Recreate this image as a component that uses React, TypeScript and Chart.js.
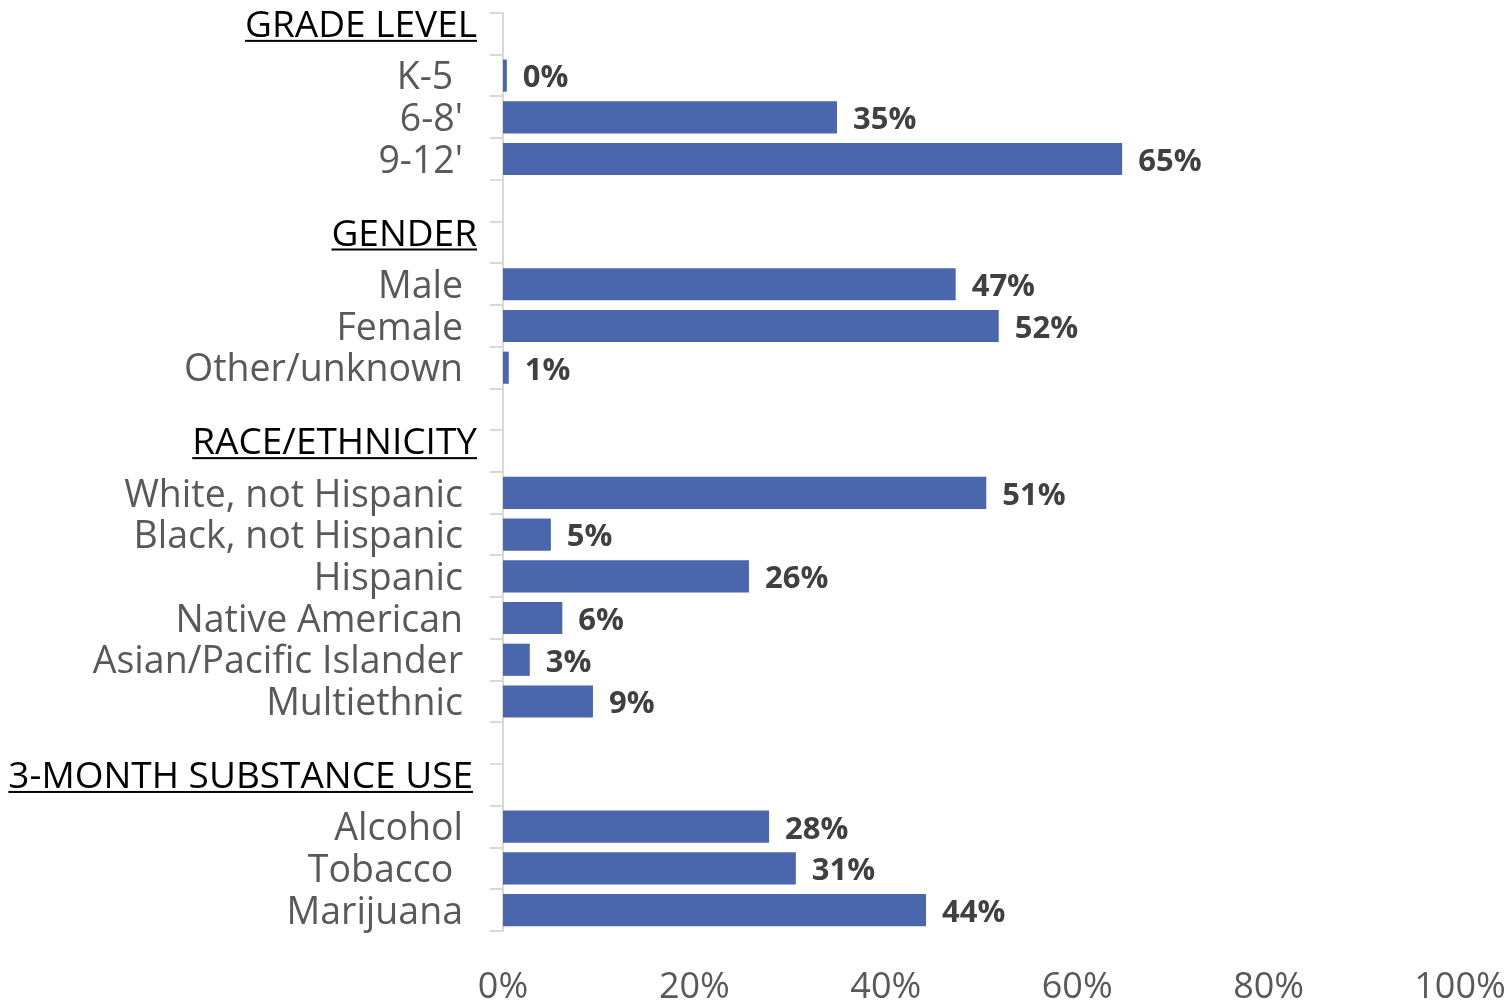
import React, { useEffect, useRef } from "react";
import { Chart, registerables } from "chart.js";

Chart.register(...registerables);

const categories: string[] = [
  "GRADE LEVEL", "K-5 ", "6-8'", "9-12'", "",
  "GENDER", "Male", "Female", "Other/unknown", "",
  "RACE/ETHNICITY", "White, not Hispanic", "Black, not Hispanic", "Hispanic",
  "Native American", "Asian/Pacific Islander", "Multiethnic", "",
  "3-MONTH SUBSTANCE USE", "Alcohol", "Tobacco ", "Marijuana",
];
const headers: string[] = ["GRADE LEVEL", "GENDER", "RACE/ETHNICITY", "3-MONTH SUBSTANCE USE"];
const values: (number | null)[] = [
  null, 0.4, 34.9, 64.7, null,
  null, 47.3, 51.8, 0.6, null,
  null, 50.5, 5.0, 25.7, 6.2, 2.8, 9.4, null,
  null, 27.8, 30.6, 44.2,
];
const valueLabels: string[] = [
  "", "0%", "35%", "65%", "",
  "", "47%", "52%", "1%", "",
  "", "51%", "5%", "26%", "6%", "3%", "9%", "",
  "", "28%", "31%", "44%",
];
const xTicks: number[] = [0, 20, 40, 60, 80, 100];

const FONT = "'Open Sans', sans-serif";
const BAR = "#4A66AC";
const GRAY = "#595959";

const labelPlugin = {
  id: "customLabels",
  afterDraw(chart: any) {
    const ctx = chart.ctx;
    const y = chart.scales.y;
    const left = chart.chartArea.left;
    ctx.save();
    categories.forEach((c, i) => {
      const py = y.getPixelForValue(i);
      if (headers.includes(c)) {
        ctx.font = `37px ${FONT}`;
        ctx.fillStyle = "#000000";
        ctx.textAlign = "right";
        ctx.textBaseline = "alphabetic";
        const rx = c === "3-MONTH SUBSTANCE USE" ? left - 30 : left - 26;
        const by = py + 3;
        ctx.fillText(c, rx, by);
        const w = ctx.measureText(c).width;
        ctx.fillRect(rx - w, by + 3, w, 2);
      } else if (c) {
        ctx.font = `37.5px ${FONT}`;
        ctx.fillStyle = GRAY;
        ctx.textAlign = "right";
        ctx.textBaseline = "middle";
        ctx.fillText(c, left - 40, py + 3);
      }
    });
    ctx.restore();
  },
  afterDatasetsDraw(chart: any) {
    const ctx = chart.ctx;
    const meta = chart.getDatasetMeta(0);
    ctx.save();
    ctx.font = `bold 31px ${FONT}`;
    ctx.fillStyle = "#404040";
    ctx.textAlign = "left";
    ctx.textBaseline = "middle";
    meta.data.forEach((el: any, i: number) => {
      if (values[i] === null) return;
      ctx.fillText(valueLabels[i], el.x + 16, el.y + 3);
    });
    ctx.restore();
  },
};

export default function App() {
  const ref = useRef<HTMLCanvasElement>(null);
  useEffect(() => {
    if (!ref.current) return;
    const chart = new Chart(ref.current, {
      type: "bar",
      data: {
        labels: categories,
        datasets: [
          {
            data: values,
            backgroundColor: BAR,
            barPercentage: 0.77,
            categoryPercentage: 1,
          },
        ],
      },
      options: {
        indexAxis: "y",
        animation: false,
        responsive: true,
        maintainAspectRatio: false,
        layout: { padding: { left: 0, right: 52, top: 13, bottom: 0 } },
        plugins: { legend: { display: false }, tooltip: { enabled: false } },
        scales: {
          x: {
            min: 0,
            max: 100,
            afterBuildTicks: (s: any) => {
              s.ticks = xTicks.map((v) => ({ value: v }));
            },
            afterFit: (s: any) => {
              s.height = 70;
              s.paddingLeft = 0;
              s.paddingRight = 0;
            },
            grid: { display: false },
            border: { display: false },
            ticks: {
              color: GRAY,
              font: { family: FONT, size: 36 },
              padding: 27,
              callback: (v: any) => `${v}%`,
            },
          },
          y: {
            afterFit: (s: any) => {
              s.width = 503;
            },
            grid: {
              display: true,
              drawOnChartArea: false,
              drawTicks: true,
              tickLength: 13,
              color: "#D9D9D9",
              lineWidth: 2,
              offset: true,
            },
            border: { display: true, color: "#D9D9D9", width: 2 },
            ticks: { display: false },
          },
        },
      },
      plugins: [labelPlugin],
    });
    return () => chart.destroy();
  }, []);
  return (
    <div style={{ position: "fixed", left: 0, top: 0, width: 1512, height: 1001, background: "#fff" }}>
      <canvas ref={ref} />
    </div>
  );
}
